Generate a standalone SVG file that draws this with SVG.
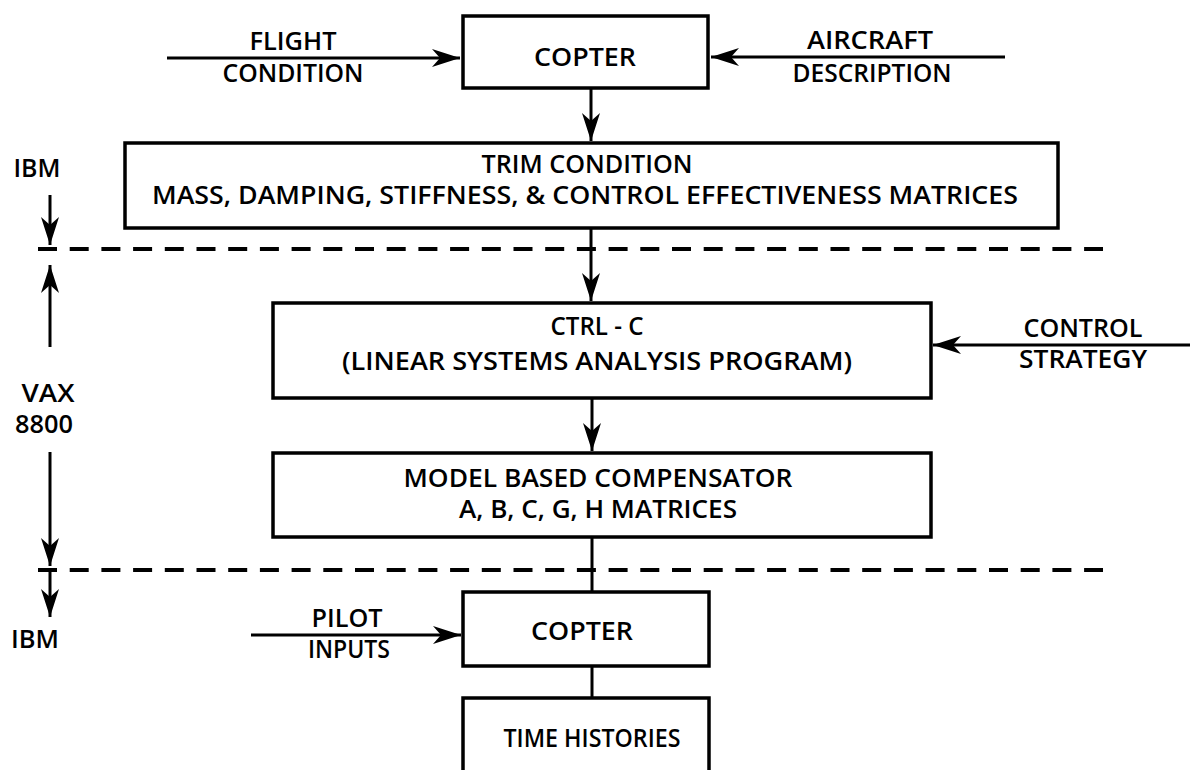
<svg xmlns="http://www.w3.org/2000/svg" width="1190" height="770" viewBox="0 0 1190 770">
<style>
.box{fill:#fff;stroke:#000;stroke-width:3.5}
.ln{fill:none;stroke:#000;stroke-width:3}
.dash{fill:none;stroke:#000;stroke-width:4;stroke-dasharray:19 12.7}
text{font-family:"Open Sans","Noto Sans","DejaVu Sans",sans-serif;font-weight:600;font-size:25px;fill:#000;text-anchor:middle}
</style>
<defs>
<marker id="ah" viewBox="-30 -10 32 20" refX="0" refY="0" markerWidth="32" markerHeight="20" markerUnits="userSpaceOnUse" orient="auto">
<path d="M0,0 L-28,-9 L-20,0 L-28,9 Z" fill="#000"/>
</marker>
</defs>
<rect width="1190" height="770" fill="#fff"/>
<g id="connectors">
<line class="ln" x1="167" y1="58" x2="460" y2="58" marker-end="url(#ah)"/>
<line class="ln" x1="1005" y1="57" x2="711" y2="57" marker-end="url(#ah)"/>
<line class="ln" x1="591" y1="88" x2="591" y2="141" marker-end="url(#ah)"/>
<line class="ln" x1="591" y1="228" x2="591" y2="301" marker-end="url(#ah)"/>
<line class="ln" x1="1190" y1="345" x2="933" y2="345" marker-end="url(#ah)"/>
<line class="ln" x1="592" y1="398" x2="592" y2="451" marker-end="url(#ah)"/>
<line class="ln" x1="592" y1="537" x2="592" y2="593"/>
<line class="ln" x1="251" y1="635" x2="461" y2="635" marker-end="url(#ah)"/>
<line class="ln" x1="592" y1="666" x2="592" y2="698"/>
<line class="dash" x1="38" y1="249" x2="1103" y2="249"/>
<line class="dash" x1="38" y1="570" x2="1103" y2="570"/>
<line class="ln" x1="50" y1="195" x2="50" y2="245" marker-end="url(#ah)"/>
<line class="ln" x1="50" y1="347" x2="50" y2="265" marker-end="url(#ah)"/>
<line class="ln" x1="50" y1="452" x2="50" y2="566" marker-end="url(#ah)"/>
<line class="ln" x1="50" y1="570" x2="50" y2="617" marker-end="url(#ah)"/>
</g>
<g id="flight-condition">
<text x="293" y="50" textLength="87" lengthAdjust="spacingAndGlyphs">FLIGHT</text>
<text x="293" y="82" textLength="141" lengthAdjust="spacingAndGlyphs">CONDITION</text>
</g>
<g id="aircraft-description">
<text x="870" y="49" textLength="126" lengthAdjust="spacingAndGlyphs">AIRCRAFT</text>
<text x="872" y="82" textLength="159" lengthAdjust="spacingAndGlyphs">DESCRIPTION</text>
</g>
<g id="copter-top">
<rect class="box" x="463" y="16" width="245" height="72"/>
<text x="585" y="66" textLength="102" lengthAdjust="spacingAndGlyphs">COPTER</text>
</g>
<g id="trim">
<rect class="box" x="125" y="143" width="933" height="85"/>
<text x="587" y="173" textLength="211" lengthAdjust="spacingAndGlyphs">TRIM CONDITION</text>
<text x="585" y="204" textLength="866" lengthAdjust="spacingAndGlyphs">MASS, DAMPING, STIFFNESS, &amp; CONTROL EFFECTIVENESS MATRICES</text>
</g>
<g id="ibm-top">
<text x="37" y="177" textLength="47" lengthAdjust="spacingAndGlyphs">IBM</text>
</g>
<g id="vax">
<text x="48" y="402" textLength="53" lengthAdjust="spacingAndGlyphs">VAX</text>
<text x="44" y="433" textLength="58" lengthAdjust="spacingAndGlyphs">8800</text>
</g>
<g id="ibm-bottom">
<text x="35" y="648" textLength="48" lengthAdjust="spacingAndGlyphs">IBM</text>
</g>
<g id="ctrl-c">
<rect class="box" x="273" y="303" width="658" height="95"/>
<text x="597" y="335" textLength="93" lengthAdjust="spacingAndGlyphs">CTRL - C</text>
<text x="597" y="370" textLength="510" lengthAdjust="spacingAndGlyphs">(LINEAR SYSTEMS ANALYSIS PROGRAM)</text>
</g>
<g id="control-strategy">
<text x="1083" y="337" textLength="119" lengthAdjust="spacingAndGlyphs">CONTROL</text>
<text x="1083" y="368" textLength="128" lengthAdjust="spacingAndGlyphs">STRATEGY</text>
</g>
<g id="compensator">
<rect class="box" x="273" y="453" width="658" height="84"/>
<text x="598" y="487" textLength="389" lengthAdjust="spacingAndGlyphs">MODEL BASED COMPENSATOR</text>
<text x="598" y="518" textLength="278" lengthAdjust="spacingAndGlyphs">A, B, C, G, H MATRICES</text>
</g>
<g id="pilot-inputs">
<text x="347" y="627" textLength="71" lengthAdjust="spacingAndGlyphs">PILOT</text>
<text x="349" y="658" textLength="82" lengthAdjust="spacingAndGlyphs">INPUTS</text>
</g>
<g id="copter-bottom">
<rect class="box" x="463" y="592" width="246" height="74"/>
<text x="582" y="640" textLength="102" lengthAdjust="spacingAndGlyphs">COPTER</text>
</g>
<g id="time-histories">
<rect class="box" x="463" y="698" width="246" height="80"/>
<text x="592" y="747" textLength="177" lengthAdjust="spacingAndGlyphs">TIME HISTORIES</text>
</g>
</svg>
